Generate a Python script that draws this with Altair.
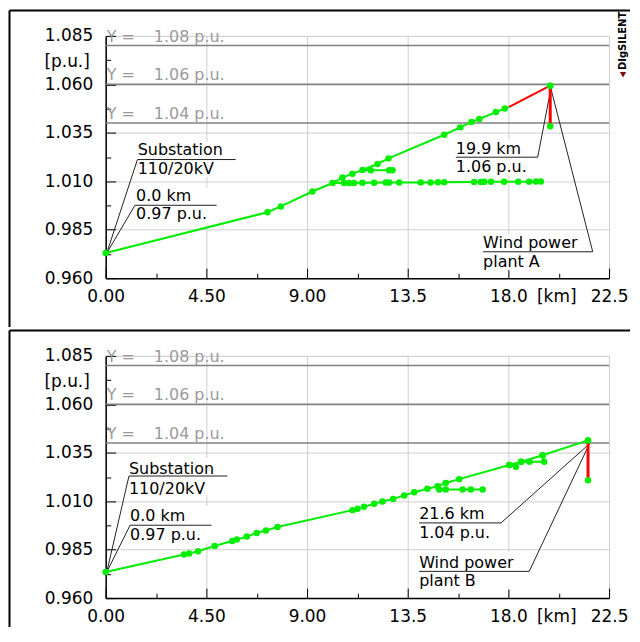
import altair as alt
import pandas as pd

# ---------------- data ----------------
X_TICKS = [0, 4.5, 9, 13.5, 18, 22.5]
X_TICKS_MINOR = [0, 2.25, 4.5, 6.75, 9, 11.25, 13.5, 15.75, 18, 20.25, 22.5]
Y_TICKS = [0.96, 0.985, 1.01, 1.035, 1.06, 1.085]
Y_TICKS_MINOR = [0.96, 0.9725, 0.985, 0.9975, 1.01, 1.0225, 1.035, 1.0475, 1.06, 1.0725, 1.085]
LIMITS = [1.08, 1.06, 1.04]
LIMIT_LABELS = ["1.08 p.u.", "1.06 p.u.", "1.04 p.u."]

# Panel A (top)
A_main_km = [0.0, 7.23, 7.83, 9.24, 10.14, 10.58, 11.03, 11.48, 12.15, 12.64, 15.13, 15.85, 16.35, 16.70, 17.44, 17.84, 18.04]
A_main_pu = [0.973, 0.994, 0.997, 1.0047, 1.0091, 1.0119, 1.0139, 1.0158, 1.0189, 1.0218, 1.0340, 1.0378, 1.0406, 1.0421, 1.0457, 1.0475, 1.0484]
A_flat_km = [10.14, 10.66, 10.88, 11.10, 11.48, 12.00, 12.52, 12.67, 13.12, 14.08, 14.52, 14.85, 15.13, 16.47, 16.77, 16.92, 17.22, 17.81, 18.44, 18.93, 19.23, 19.45]
A_flat_pu = [1.0091, 1.0091, 1.0091, 1.0091, 1.0092, 1.0092, 1.0093, 1.0093, 1.0093, 1.0094, 1.0094, 1.0095, 1.0095, 1.0096, 1.0096, 1.0097, 1.0097, 1.0097, 1.0098, 1.0098, 1.0099, 1.0099]
A_spur_km = [11.48, 11.85, 12.67, 12.82]
A_spur_pu = [1.0158, 1.0157, 1.0157, 1.0157]
A_red_km = [18.04, 19.87]
A_red_pu = [1.0484, 1.0593]
A_plant_km = [19.87, 19.87]
A_plant_pu = [1.0593, 1.0384]

# Panel B (bottom)
B_main_km = [0.0, 3.50, 3.73, 4.13, 4.87, 5.66, 5.86, 6.31, 6.75, 7.16, 7.68, 11.03, 11.26, 11.55, 12.00, 12.37, 12.85, 13.34, 13.79, 14.38, 14.83, 15.20, 15.80, 18.04, 18.57, 19.53, 21.56]
B_main_pu = [0.9735, 0.9825, 0.9830, 0.9842, 0.9869, 0.9895, 0.9902, 0.9918, 0.9936, 0.9949, 0.9967, 1.0054, 1.0061, 1.0071, 1.0087, 1.0099, 1.0112, 1.0130, 1.0146, 1.0164, 1.0177, 1.0194, 1.0214, 1.0287, 1.0304, 1.0337, 1.0414]
B_spur_km = [14.83, 14.91, 15.20, 15.95, 16.32, 16.85]
B_spur_pu = [1.0177, 1.0161, 1.0161, 1.0161, 1.0161, 1.0161]
B_loop_km = [18.57, 18.94, 19.60, 19.53]
B_loop_pu = [1.0304, 1.0304, 1.0304, 1.0337]
B_stub_km = [18.04, 18.34]
B_stub_pu = [1.0287, 1.0278]
B_plant_km = [21.56, 21.56]
B_plant_pu = [1.0414, 1.0208]

GREEN = "#00ee00"
RED = "#ff0000"
FONT = "DejaVu Sans"

XS = alt.Scale(domain=[0, 22.5], nice=False, zero=False)
YS = alt.Scale(domain=[0.96, 1.085], nice=False, zero=False)


def branch_rows(name, kms, pus, color, width, dots):
    rows = []
    for i, (k, p) in enumerate(zip(kms, pus)):
        rows.append(dict(branch=name, km=k, pu=p, ord=i, col=color, w=width, dot=dots[i]))
    return rows


def all_dots(n, skip=()):
    return [i not in skip for i in range(n)]


lines_A = pd.DataFrame(
    branch_rows("main", A_main_km, A_main_pu, GREEN, 2, all_dots(len(A_main_km), {len(A_main_km) - 1}))
    + branch_rows("flat", A_flat_km, A_flat_pu, GREEN, 2, all_dots(len(A_flat_km), {0}))
    + branch_rows("spur", A_spur_km, A_spur_pu, GREEN, 2, all_dots(len(A_spur_km), {0}))
    + branch_rows("red", A_red_km, A_red_pu, RED, 2, [False, True])
    + branch_rows("plant", A_plant_km, A_plant_pu, RED, 3, [True, True])
)
lines_B = pd.DataFrame(
    branch_rows("main", B_main_km, B_main_pu, GREEN, 2, all_dots(len(B_main_km)))
    + branch_rows("spur", B_spur_km, B_spur_pu, GREEN, 2, all_dots(len(B_spur_km), {0}))
    + branch_rows("loop", B_loop_km, B_loop_pu, GREEN, 2, all_dots(len(B_loop_km)))
    + branch_rows("stub", B_stub_km, B_stub_pu, GREEN, 2, all_dots(len(B_stub_km)))
    + branch_rows("plant", B_plant_km, B_plant_pu, RED, 3, [True, True])
)

# annotations (text, left km, baseline p.u.)
texts_A = pd.DataFrame(dict(
    t=["Substation", "110/20kV", "0.0 km", "0.97 p.u.", "19.9 km", "1.06 p.u.", "Wind power", "plant A"],
    km=[1.43, 1.43, 1.36, 1.36, 15.65, 15.65, 16.87, 16.87],
    pu=[1.0234, 1.0136, 0.9997, 0.9904, 1.0239, 1.0146, 0.9755, 0.9657]))
texts_B = pd.DataFrame(dict(
    t=["Substation", "110/20kV", "0.0 km", "0.97 p.u.", "21.6 km", "1.04 p.u.", "Wind power", "plant B"],
    km=[1.04, 1.04, 1.09, 1.09, 14.01, 14.01, 14.01, 14.01],
    pu=[1.0242, 1.0138, 0.9997, 0.9902, 1.0007, 0.9911, 0.9755, 0.9660]))

segs_A = pd.DataFrame(dict(
    x1=[1.42, 1.31, 15.65, 16.87, 1.42, 1.31, 19.31, 21.77],
    x2=[5.81, 4.96, 19.31, 21.77, 0.05, 0.05, 19.90, 19.90],
    y1=[1.0212, 0.9976, 1.0224, 0.9736, 1.0212, 0.9976, 1.0224, 0.9736],
    y2=[1.0212, 0.9976, 1.0224, 0.9736, 0.9730, 0.9730, 1.0578, 1.0578]))
segs_B = pd.DataFrame(dict(
    x1=[1.04, 1.09, 14.01, 14.01, 1.04, 1.09, 17.67, 18.93],
    x2=[5.44, 4.73, 17.67, 18.93, 0.05, 0.05, 21.62, 21.62],
    y1=[1.0230, 0.9976, 0.9988, 0.9738, 1.0230, 0.9976, 0.9988, 0.9738],
    y2=[1.0230, 0.9976, 0.9988, 0.9738, 0.9735, 0.9735, 1.0396, 1.0396]))

boxes_A = pd.DataFrame(dict(
    x1=[1.34, 1.25, 15.56, 16.77], x2=[5.86, 5.01, 19.32, 21.78],
    y1=[1.0306, 1.0064, 1.0316, 0.9827], y2=[1.0121, 0.9884, 1.0131, 0.9641]))
boxes_B = pd.DataFrame(dict(
    x1=[0.94, 0.98, 13.91, 13.91], x2=[5.46, 4.74, 17.71, 18.96],
    y1=[1.0323, 1.0075, 1.0060, 0.9836], y2=[1.0131, 0.9883, 0.9893, 0.9645]))

limits_df = pd.DataFrame(dict(pu=LIMITS, lab=LIMIT_LABELS, ylab=["Y ="] * 3,
                              k0=[0.05] * 3, k1=[2.15] * 3))

W, H = 505, 243
ANN_SIZE = 16

x_label_axis = alt.Axis(
    values=X_TICKS,
    labelExpr="datum.value < 10 ? format(datum.value, '.2f') : format(datum.value, '.1f')",
    ticks=False, tickSize=0, labelPadding=10, labelFlush=False, labelOverlap=False,
    labelFont=FONT, labelFontSize=17, labelColor="black",
    domainColor="black", domainWidth=1.5,
    grid=True, gridColor="#cfcfcf", gridWidth=1,
    title="[km]", titleX=452, titleY=18, titleAngle=0, titleAlign="center",
    titleBaseline="middle", titleFont=FONT, titleFontSize=17,
    titleFontWeight="normal", titleColor="black")
y_label_axis = alt.Axis(
    values=Y_TICKS, format=".3f",
    ticks=False, tickSize=0, labelPadding=13, labelFlush=False, labelOverlap=False,
    labelFont=FONT, labelFontSize=17, labelColor="black",
    domainColor="black", domainWidth=1.5,
    grid=True, gridColor="#cfcfcf", gridWidth=1,
    title="[p.u.]", titleX=-62, titleY=26, titleAngle=0, titleAlign="left",
    titleBaseline="middle", titleFont=FONT, titleFontSize=17,
    titleFontWeight="normal", titleColor="black")
x_tick_axis = alt.Axis(
    orient="top", offset=-H, values=X_TICKS_MINOR, labels=False, domain=False,
    grid=False, ticks=True, tickColor="black", tickWidth=1,
    tickSize={"condition": {"test": "abs(datum.value/4.5 - round(datum.value/4.5)) < 0.01", "value": 10}, "value": 5},
    title=None)
y_tick_axis = alt.Axis(
    orient="right", offset=-W, values=Y_TICKS_MINOR, labels=False, domain=False,
    grid=False, ticks=True, tickColor="black", tickWidth=1,
    tickSize={"condition": {"test": "abs((datum.value-0.96)/0.025 - round((datum.value-0.96)/0.025)) < 0.01", "value": 10}, "value": 5},
    title=None)

dummy = pd.DataFrame({"a": [0]})


def panel(lines, texts, segs, boxes, top):
    boxes_l = alt.Chart(boxes).mark_rect(color="white").encode(
        x=alt.X("x1:Q", scale=XS, axis=None), x2="x2:Q",
        y=alt.Y("y1:Q", scale=YS, axis=None), y2="y2:Q")
    lim_rule = alt.Chart(limits_df).mark_rule(color="#808080", strokeWidth=1.5).encode(
        y=alt.Y("pu:Q", scale=YS, axis=None))
    lim_t0 = alt.Chart(limits_df).mark_text(
        align="left", baseline="alphabetic", dy=-4, font=FONT, fontSize=ANN_SIZE, color="#9a9a9a").encode(
        x=alt.X("k0:Q", scale=XS, axis=None), y=alt.Y("pu:Q", scale=YS, axis=None), text="ylab:N")
    lim_t1 = alt.Chart(limits_df).mark_text(
        align="left", baseline="alphabetic", dy=-4, font=FONT, fontSize=ANN_SIZE, color="#9a9a9a").encode(
        x=alt.X("k1:Q", scale=XS, axis=None), y=alt.Y("pu:Q", scale=YS, axis=None), text="lab:N")
    seg_l = alt.Chart(segs).mark_rule(color="#222222", strokeWidth=1).encode(
        x=alt.X("x1:Q", scale=XS, axis=None), x2="x2:Q",
        y=alt.Y("y1:Q", scale=YS, axis=None), y2="y2:Q")
    line_l = alt.Chart(lines).mark_line().encode(
        x=alt.X("km:Q", scale=XS, axis=x_label_axis),
        y=alt.Y("pu:Q", scale=YS, axis=y_label_axis),
        detail="branch:N", order="ord:Q",
        color=alt.Color("col:N", scale=None),
        size=alt.Size("w:Q", scale=None))
    dot_l = alt.Chart(lines).transform_filter("datum.dot").mark_circle(
        size=42, color=GREEN, opacity=1).encode(
        x=alt.X("km:Q", scale=XS, axis=x_tick_axis),
        y=alt.Y("pu:Q", scale=YS, axis=y_tick_axis))
    text_l = alt.Chart(texts).mark_text(
        align="left", baseline="alphabetic", font=FONT, fontSize=ANN_SIZE, color="black").encode(
        x=alt.X("km:Q", scale=XS, axis=None), y=alt.Y("pu:Q", scale=YS, axis=None), text="t:N")
    frame_top = alt.Chart(dummy).mark_rule(color="black", strokeWidth=2).encode(
        x=alt.value(-96.5), x2=alt.value(526), y=alt.value(-25.5))
    layers = [boxes_l, lim_rule, lim_t0, lim_t1, seg_l, line_l, dot_l, text_l, frame_top]
    if top:
        frame_left = alt.Chart(dummy).mark_rule(color="black", strokeWidth=2).encode(
            x=alt.value(-96.5), y=alt.value(-25.5), y2=alt.value(292))
        sep = alt.Chart(dummy).mark_rule(color="white", strokeWidth=1, strokeOpacity=0).encode(
            x=alt.value(-96.5), x2=alt.value(526), y=alt.value(292))
        logo = alt.Chart(dummy).mark_text(
            text="DIgSILENT", angle=270, align="center", baseline="middle",
            font=FONT, fontSize=10, fontWeight="bold", color="black").encode(
            x=alt.value(519), y=alt.value(5))
        tri = alt.Chart(dummy).mark_point(
            shape="triangle-down", filled=True, color="#7a1010", size=40, opacity=1).encode(
            x=alt.value(519), y=alt.value(39))
        layers += [frame_left, sep, logo, tri]
    else:
        frame_left = alt.Chart(dummy).mark_rule(color="black", strokeWidth=2).encode(
            x=alt.value(-96.5), y=alt.value(-25.5), y2=alt.value(272))
        layers += [frame_left]
    return alt.layer(*layers).resolve_axis(x="independent", y="independent").properties(
        width=W, height=H)


chart = alt.vconcat(
    panel(lines_A, texts_A, segs_A, boxes_A, True),
    panel(lines_B, texts_B, segs_B, boxes_B, False),
    spacing=0,
).properties(padding=0).configure_view(stroke="#c8c8c8", strokeWidth=1).configure(
    font=FONT, background="white")

chart.save("out.html", embed_options={"renderer": "svg", "actions": False})
